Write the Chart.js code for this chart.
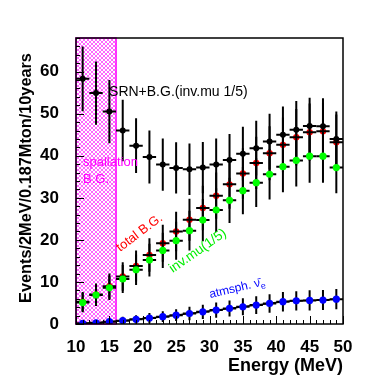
<!DOCTYPE html>
<html>
<head>
<meta charset="utf-8">
<script src="https://cdn.jsdelivr.net/npm/chart.js@4.4.1/dist/chart.umd.min.js"></script>
<style>
html, body { margin: 0; padding: 0; background: #fff; }
#wrap { width: 382px; height: 382px; position: relative; }
</style>
</head>
<body>
<div id="wrap"><canvas id="c"></canvas></div>
<script>
// bin centres (2 MeV bins)
const energy = [11, 13, 15, 17, 19, 21, 23, 25, 27, 29, 31, 33, 35, 37, 39, 41, 43, 45, 47, 49];
const binHalf = 1;

const srnBg    = [58.3, 54.9, 50.5, 46.0, 42.4, 39.7, 37.9, 37.1, 36.8, 37.2, 37.9, 39.0, 40.5, 41.8, 43.4, 45.0, 46.2, 47.1, 47.0, 44.0];
const srnBgErr = [7.7, 7.5, 7.5, 7.3, 6.5, 6.3, 6.2, 6.1, 6.1, 6.1, 6.2, 6.2, 6.4, 6.5, 6.6, 6.7, 6.8, 6.7, 6.7, 6.5];

const totalBg    = [5.3, 7.0, 9.0, 11.3, 13.8, 16.4, 19.2, 22.0, 24.8, 27.6, 30.5, 33.2, 35.8, 38.3, 40.6, 42.6, 44.4, 45.6, 45.8, 43.2];
const totalBgErr = [2.3, 2.6, 3.0, 3.4, 3.7, 4.0, 4.4, 4.7, 5.0, 5.3, 5.5, 5.8, 6.0, 6.2, 6.4, 6.5, 6.7, 6.8, 6.8, 6.6];

const invMu    = [5.1, 6.9, 8.6, 10.7, 12.9, 15.2, 17.5, 19.8, 22.2, 24.7, 27.1, 29.4, 31.7, 33.6, 35.6, 37.4, 38.9, 39.9, 39.9, 37.2];
const invMuErr = [2.3, 2.6, 2.9, 3.3, 3.6, 3.9, 4.2, 4.5, 4.7, 5.0, 5.2, 5.4, 5.6, 5.8, 6.0, 6.1, 6.2, 6.3, 6.3, 6.1];

const atmNue    = [0.15, 0.3, 0.55, 0.8, 1.1, 1.4, 1.75, 2.1, 2.5, 2.9, 3.3, 3.7, 4.1, 4.5, 4.9, 5.3, 5.5, 5.6, 5.7, 5.9];
const atmNueErr = [0.4, 0.5, 0.7, 0.9, 1.0, 1.2, 1.3, 1.4, 1.6, 1.7, 1.8, 1.9, 2.0, 2.1, 2.2, 2.3, 2.3, 2.4, 2.4, 2.4];

const spallationRange = [10, 16];
const xTicks = [10, 15, 20, 25, 30, 35, 40, 45, 50];
const yTicks = [0, 10, 20, 30, 40, 50, 60];

const FONT = '"Liberation Sans", Arial, Helvetica, sans-serif';
const pts = (ys) => ys.map((v, i) => ({ x: energy[i], y: v }));

// ピンクの網掛け
const hatch = (() => {
    const c = document.createElement('canvas');
    c.width = 4; c.height = 4;
    const g = c.getContext('2d');
    g.fillStyle = '#ffffff';
    g.fillRect(0, 0, 4, 4);
    g.strokeStyle = 'rgba(255,0,255,0.6)';
    g.lineWidth = 1;
    g.beginPath();
    g.moveTo(0, 0); g.lineTo(4, 4);
    g.moveTo(0, 4); g.lineTo(4, 0);
    g.stroke();
    return g.createPattern(c, 'repeat');
})();

const spallationBox = {
    id: 'spallationBox',
    beforeDatasetsDraw(chart) {
        const { ctx, scales: { x }, chartArea: a } = chart;
        const x0 = x.getPixelForValue(spallationRange[0]);
        const x1 = x.getPixelForValue(spallationRange[1]);
        ctx.save();
        ctx.fillStyle = hatch;
        ctx.fillRect(x0, a.top, x1 - x0, a.bottom - a.top);
        ctx.strokeStyle = '#ff00ff';
        ctx.lineWidth = 1.5;
        ctx.strokeRect(x0, a.top, x1 - x0, a.bottom - a.top);
        ctx.restore();
    }
};

function drawBars(chart, ds) {
    const { ctx, scales: { x, y }, chartArea: a } = chart;
    ctx.save();
    ctx.beginPath();
    ctx.rect(a.left, a.top, a.width, a.height);
    ctx.clip();
    ctx.strokeStyle = '#000';
    ctx.lineWidth = 2;
    ds.data.forEach((p, i) => {
        const e = ds.errors[i];
        const px = x.getPixelForValue(p.x);
        const py = y.getPixelForValue(p.y);
        ctx.beginPath();
        ctx.moveTo(px, y.getPixelForValue(p.y - e));
        ctx.lineTo(px, y.getPixelForValue(p.y + e));
        ctx.moveTo(x.getPixelForValue(p.x - binHalf), py);
        ctx.lineTo(x.getPixelForValue(p.x + binHalf), py);
        ctx.stroke();
    });
    ctx.restore();
}

// 誤差棒: 普通は点の下、barsOnTop のものは点の上
const errorBars = {
    id: 'errorBars',
    beforeDatasetsDraw(chart) {
        chart.data.datasets.forEach(ds => {
            if (ds.errors && !ds.barsOnTop) drawBars(chart, ds);
        });
    },
    afterDatasetDraw(chart, args) {
        const ds = chart.data.datasets[args.index];
        if (ds.errors && ds.barsOnTop) drawBars(chart, ds);
    }
};

// 枠と内側の目盛り
const frame = {
    id: 'frame',
    afterDatasetsDraw(chart) {
        const { ctx, scales: { x, y }, chartArea: a } = chart;
        ctx.save();
        ctx.strokeStyle = '#000';
        ctx.lineWidth = 1;
        ctx.beginPath();
        for (let v = 10; v <= 50; v++) {
            const px = Math.round(x.getPixelForValue(v)) + 0.5;
            const len = v % 5 === 0 ? 8 : 4;
            ctx.moveTo(px, a.bottom); ctx.lineTo(px, a.bottom - len);
        }
        for (let v = 0; v <= 68; v += 2) {
            const py = Math.round(y.getPixelForValue(v)) + 0.5;
            const len = v % 10 === 0 ? 8 : 4;
            ctx.moveTo(a.left, py); ctx.lineTo(a.left + len, py);
        }
        ctx.stroke();
        ctx.lineWidth = 1.5;
        ctx.strokeRect(a.left, a.top, a.width, a.height);
        ctx.restore();
    }
};

const labels = {
    id: 'labels',
    afterDraw(chart) {
        const { ctx, scales: { x, y }, chartArea: a } = chart;
        const put = (text, ex, ey, color, size, angle) => {
            ctx.save();
            ctx.translate(x.getPixelForValue(ex), y.getPixelForValue(ey));
            ctx.rotate(angle * Math.PI / 180);
            ctx.fillStyle = color;
            ctx.font = `${size}px ${FONT}`;
            ctx.textAlign = 'left';
            ctx.textBaseline = 'alphabetic';
            ctx.fillText(text, 0, 0);
            ctx.restore();
        };
        put('SRN+B.G.(inv.mu 1/5)', 14.95, 54.3, '#000', 14, 0);
        put('spallation', 11.05, 37.6, '#ff00ff', 13, 0);
        put('B.G.', 11.05, 33.6, '#ff00ff', 13, 0);
        put('total B.G.', 16.6, 17.1, '#ff0000', 13, -37);
        put('inv.mu(1/5)', 24.5, 12.1, '#00ee00', 13.5, -35);

        // atmsph. nu-bar_e
        ctx.save();
        ctx.translate(x.getPixelForValue(30.1), y.getPixelForValue(6.2));
        ctx.rotate(-13 * Math.PI / 180);
        ctx.fillStyle = '#0000ff';
        ctx.font = `12px ${FONT}`;
        ctx.textBaseline = 'alphabetic';
        const main = 'atmsph. \u03BD\u0304';
        ctx.fillText(main, 0, 0);
        const w = ctx.measureText(main).width;
        ctx.font = `9px ${FONT}`;
        ctx.fillText('e', w, 3);
        ctx.restore();

        // axis titles
        ctx.save();
        ctx.fillStyle = '#000';
        ctx.font = `bold 18px ${FONT}`;
        ctx.textAlign = 'right';
        ctx.textBaseline = 'alphabetic';
        ctx.fillText('Energy (MeV)', a.right, 371);
        ctx.font = `bold 16.3px ${FONT}`;
        ctx.translate(31, 178);
        ctx.rotate(-Math.PI / 2);
        ctx.textAlign = 'center';
        ctx.fillText('Events/2MeV/0.187Mton/10years', 0, 0);
        ctx.restore();
    }
};

const tickFont = { family: FONT, size: 17, weight: 'bold' };

new Chart(document.getElementById('c'), {
    type: 'scatter',
    data: {
        datasets: [
            { label: 'SRN+B.G.', data: pts(srnBg), errors: srnBgErr, backgroundColor: '#000', pointRadius: 3, pointBorderWidth: 0, order: 1 },
            { label: 'inv.mu(1/5)', data: pts(invMu), errors: invMuErr, backgroundColor: '#00ff00', pointRadius: 3.6, pointBorderWidth: 0, order: 2 },
            { label: 'total B.G.', data: pts(totalBg), errors: totalBgErr, barsOnTop: true, backgroundColor: '#ff0000', pointRadius: 3.2, pointBorderWidth: 0, order: 3 },
            { label: 'atmsph.', data: pts(atmNue), errors: atmNueErr, backgroundColor: '#0000ff', pointRadius: 3.6, pointBorderWidth: 0,
              showLine: true, borderColor: '#000', borderWidth: 1.5, cubicInterpolationMode: 'monotone', order: 0 }
        ]
    },
    options: {
        responsive: true,
        maintainAspectRatio: false,
        animation: false,
        events: [],
        layout: { padding: { top: 38, right: 39, left: 0, bottom: 0 } },
        plugins: { legend: { display: false }, tooltip: { enabled: false } },
        scales: {
            x: {
                type: 'linear', min: 10, max: 50,
                grid: { display: false }, border: { display: false },
                afterBuildTicks: (s) => { s.ticks = xTicks.map(v => ({ value: v })); },
                afterFit: (s) => { s.height = 58; },
                ticks: { font: tickFont, color: '#000', padding: 5, maxRotation: 0, autoSkip: false }
            },
            y: {
                type: 'linear', min: 0, max: 68,
                grid: { display: false }, border: { display: false },
                afterBuildTicks: (s) => { s.ticks = yTicks.map(v => ({ value: v })); },
                afterFit: (s) => { s.width = 76; },
                ticks: { font: tickFont, color: '#000', padding: 9 }
            }
        }
    },
    plugins: [spallationBox, errorBars, frame, labels]
});
</script>
</body>
</html>
